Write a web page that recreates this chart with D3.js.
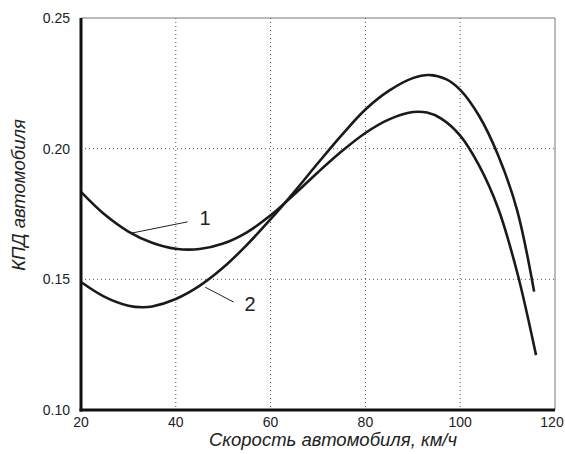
<!DOCTYPE html>
<html lang="ru">
<head>
<meta charset="UTF-8">
<title>КПД автомобиля</title>
<script src="https://d3js.org/d3.v7.min.js"></script>
<style>
  body { margin: 0; background: #fff; }
  svg text { font-family: Arial, "Liberation Sans", sans-serif; fill: #222; }
  .grid line { stroke: #555; stroke-width: 1; stroke-dasharray: 1,3; }
  .curve { fill: none; stroke: #1a1a1a; stroke-width: 2.6; }
</style>
</head>
<body>
<svg width="565" height="454"></svg>
<script>
  // data
  const xTicks = [20, 40, 60, 80, 100, 120];
  const yTicks = [0.10, 0.15, 0.20, 0.25];
  const curve1X = [20, 25, 30, 35, 40, 45, 50, 55, 60, 65, 70, 75, 80, 85, 90, 93, 96, 100, 104, 108, 112, 116];
  const curve1Y = [0.1835, 0.1748, 0.1683, 0.164, 0.1617, 0.1616, 0.1637, 0.168, 0.1745, 0.1825, 0.191, 0.199, 0.206, 0.2112, 0.214, 0.2138, 0.2115, 0.205, 0.1935, 0.1772, 0.1528, 0.121];
  const curve2X = [20, 25, 30, 33, 35, 40, 45, 50, 55, 60, 65, 70, 75, 80, 85, 90, 93.5, 97, 100, 104, 108, 112, 115.6];
  const curve2Y = [0.149, 0.1433, 0.1399, 0.1393, 0.1396, 0.1425, 0.1475, 0.1545, 0.1632, 0.173, 0.1835, 0.1945, 0.2052, 0.215, 0.2222, 0.227, 0.2282, 0.2266, 0.2225, 0.2125, 0.1975, 0.1765, 0.1453];
  const labels = [{ t: "1", x0: 30.7, y0: 0.1677, x1: 42.5, y1: 0.172, tx: 45, ty: 0.1735 },
                  { t: "2", x0: 46.2, y0: 0.147, x1: 52.2, y1: 0.1413, tx: 54.5, ty: 0.1405 }];

  const svg = d3.select("svg");
  const x = d3.scaleLinear().domain([20, 120]).range([81, 555]);
  const y = d3.scaleLinear().domain([0.10, 0.25]).range([410, 18]);

  // grid
  const grid = svg.append("g").attr("class", "grid");
  grid.selectAll(".vx").data(xTicks.slice(1, -1)).enter().append("line")
    .attr("x1", d => x(d)).attr("x2", d => x(d)).attr("y1", y(0.25)).attr("y2", y(0.10));
  grid.selectAll(".hy").data(yTicks.slice(1, -1)).enter().append("line")
    .attr("x1", x(20)).attr("x2", x(120)).attr("y1", d => y(d)).attr("y2", d => y(d));

  // frame: thin gray top/right, heavy black left/bottom
  svg.append("line").attr("x1", x(20)).attr("x2", x(120)).attr("y1", y(0.25)).attr("y2", y(0.25))
    .attr("stroke", "#777").attr("stroke-width", 1);
  svg.append("line").attr("x1", x(120)).attr("x2", x(120)).attr("y1", y(0.25)).attr("y2", y(0.10))
    .attr("stroke", "#777").attr("stroke-width", 1);

  const line = d3.line().x(d => x(d[0])).y(d => y(d[1])).curve(d3.curveCatmullRom.alpha(0.5));
  svg.append("path").attr("class", "curve").attr("d", line(d3.zip(curve1X, curve1Y)));
  svg.append("path").attr("class", "curve").attr("d", line(d3.zip(curve2X, curve2Y)));

  svg.append("line").attr("x1", x(20)).attr("x2", x(20)).attr("y1", y(0.25)).attr("y2", y(0.10) + 1.5)
    .attr("stroke", "#111").attr("stroke-width", 3);
  svg.append("line").attr("x1", x(20) - 1.5).attr("x2", x(120)).attr("y1", y(0.10)).attr("y2", y(0.10))
    .attr("stroke", "#111").attr("stroke-width", 3);

  // tick labels
  svg.selectAll(".xt").data(xTicks).enter().append("text")
    .attr("x", d => d === 120 ? x(d) - 3 : x(d)).attr("y", y(0.10) + 17).attr("text-anchor", "middle")
    .attr("font-size", 14).text(d => d);
  svg.selectAll(".yt").data(yTicks).enter().append("text")
    .attr("x", x(20) - 11).attr("y", d => y(d) + 5).attr("text-anchor", "end")
    .attr("font-size", 14).text(d => d.toFixed(2));

  // axis titles
  svg.append("text").attr("x", 333).attr("y", 446).attr("text-anchor", "middle")
    .attr("font-size", 18.5).attr("font-style", "italic").text("Скорость автомобиля, км/ч");
  svg.append("text").attr("transform", "translate(25,195) rotate(-90)").attr("text-anchor", "middle")
    .attr("font-size", 18.5).attr("font-style", "italic").text("КПД автомобиля");

  // curve labels with leaders
  labels.forEach(l => {
    svg.append("line").attr("x1", x(l.x0)).attr("y1", y(l.y0)).attr("x2", x(l.x1)).attr("y2", y(l.y1))
      .attr("stroke", "#222").attr("stroke-width", 1);
    svg.append("text").attr("x", x(l.tx)).attr("y", y(l.ty) + 7).attr("font-size", 20).text(l.t);
  });
</script>
</body>
</html>
